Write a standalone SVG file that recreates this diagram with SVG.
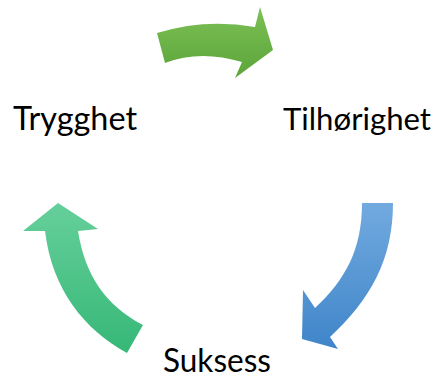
<svg xmlns="http://www.w3.org/2000/svg" width="438" height="378" viewBox="0 0 438 378">
<defs>
<style>
.lbl{font-family:Lato,"Open Sans","Liberation Sans",sans-serif;font-size:33px;fill:#000}
</style>
<linearGradient id="gTop" x1="0" y1="0" x2="0" y2="1"><stop offset="0" stop-color="#7cc056"/><stop offset="1" stop-color="#5ba539"/></linearGradient>
<linearGradient id="gBlue" x1="0" y1="0" x2="0" y2="1"><stop offset="0" stop-color="#72aadf"/><stop offset="1" stop-color="#3f85c9"/></linearGradient>
<linearGradient id="gLow" x1="0" y1="0" x2="0" y2="1"><stop offset="0" stop-color="#66cf9b"/><stop offset="1" stop-color="#36b877"/></linearGradient>
</defs>
<g id="connectors">
<path id="arrow-top" fill="url(#gTop)" d="M157,33 Q205,18 255,27 L260,7 L273,50 L235,78 L242,62 Q200,49.5 165,63 Z"/>
<path id="arrow-right" fill="url(#gBlue)" d="M362,203 L393,203 C393,260 370,300 330,337 L338,349 L302,339 L303,290 L315,308 C345,280 362,250 362,203 Z"/>
<path id="arrow-left" fill="url(#gLow)" d="M45,231 L23,231 L58,203 L98,229 L78,231 C85,275 105,305 143,325 L127,353 C85,330 52,290 45,231 Z"/>
</g>
<g id="node-trygghet"><text class="lbl" x="13" y="130" textLength="124" lengthAdjust="spacingAndGlyphs">Trygghet</text></g>
<g id="node-tilhorighet"><text class="lbl" x="283" y="130" style="font-size:31px" textLength="148" lengthAdjust="spacingAndGlyphs">Tilhørighet</text></g>
<g id="node-suksess"><text class="lbl" x="163" y="372" textLength="108" lengthAdjust="spacingAndGlyphs">Suksess</text></g>
</svg>
